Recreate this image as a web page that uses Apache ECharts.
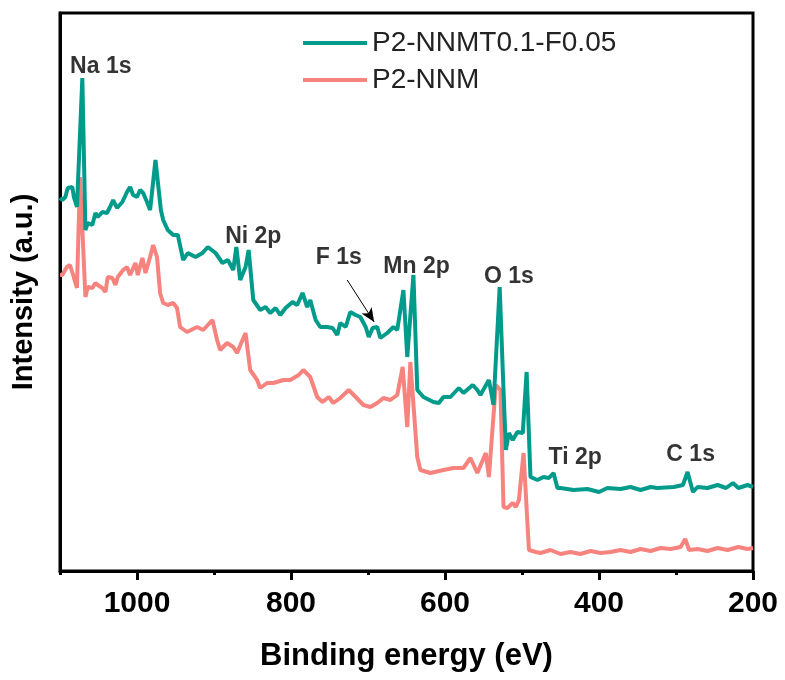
<!DOCTYPE html>
<html><head><meta charset="utf-8">
<script src="https://cdn.jsdelivr.net/npm/echarts@6/dist/echarts.min.js"></script>
<style>html,body{margin:0;padding:0;background:#fff}#c{width:785px;height:680px}</style>
</head><body><div id="c"></div>
<script>
// Binding energy (eV) and intensity (a.u.)
const energyT = [1100,1097,1093,1090,1084,1082,1078,1071,1067,1064,1058,1054,1051,1045,1039,1035,1031,1026,1019,1013,1009,1005,1000,996,992,987,983,976,969,966,960,953,947,940,934,924,915,908,898,889,882,875,871,866,859,855,849,840,833,827,820,814,807,798,792,785,779,775,768,762,753,746,740,736,729,723,716,710,703,699,694,688,684,675,667,662,654,649,641,636,628,615,608,602,593,582,576,564,558,554,543,537,529,525,521,517,512,506,499,494,489,480,472,465,459,454,450,433,415,400,389,372,359,346,333,324,303,291,285,278,272,259,246,235,226,219,207,200];
const intensityT = [373,371,374,383,384,374,364,493,341,348,346,358,354,359,358,364,371,363,369,379,384,376,374,381,378,369,361,411,361,351,341,336,336,311,318,314,318,324,318,308,311,301,324,291,304,321,271,261,264,258,263,256,263,269,266,278,264,271,251,244,244,243,236,248,244,259,256,254,244,234,243,244,233,238,244,241,281,214,296,181,174,169,168,174,174,183,178,186,181,176,191,166,284,201,121,138,131,139,138,199,94,91,94,93,98,83,83,81,82,79,83,82,84,81,84,83,84,86,99,79,84,83,86,83,88,83,86,84];
const energyN = [1100,1097,1091,1087,1083,1078,1074,1067,1064,1058,1054,1051,1045,1041,1038,1032,1028,1025,1018,1013,1009,1002,999,993,989,983,979,974,970,966,960,953,948,944,935,922,914,902,896,892,883,875,870,863,859,853,844,840,831,823,810,801,790,784,775,766,759,751,745,736,725,716,706,697,688,680,671,662,655,649,645,636,632,619,602,589,576,567,558,547,543,534,528,524,519,512,508,504,498,491,482,476,463,450,437,424,411,398,385,372,359,346,333,320,307,294,288,283,272,259,246,233,219,207,200];
const intensityN = [296,296,304,306,296,283,394,274,284,283,288,286,283,279,294,293,286,294,301,304,296,308,296,313,298,314,326,314,278,268,266,268,263,244,239,244,241,251,231,221,228,224,218,231,238,201,191,183,188,188,191,191,196,201,194,174,169,174,168,173,181,174,166,164,168,173,171,176,204,144,209,114,101,98,101,103,103,113,98,118,94,186,181,64,63,68,64,71,118,21,19,18,21,17,19,17,20,18,19,21,19,22,20,23,22,24,32,21,22,20,23,21,24,22,23];
const seriesNames = ['P2-NNMT0.1-F0.05', 'P2-NNM'];
const majorTicks = [200, 400, 600, 800, 1000];
const minorTicks = [300, 500, 700, 900, 1100];
const peakNames = ['Na 1s', 'Ni 2p', 'F 1s', 'Mn 2p', 'O 1s', 'Ti 2p', 'C 1s'];
const peakEnergy = [1047, 849, 738, 637, 517, 431, 281];
const peakLabelY = [504, 334, 313, 304, 294, 113, 116];
const arrowFrom = [727, 291];
const arrowTo = [692, 249];

const zip = (a, b) => a.map((v, i) => [v, b[i]]);
const font = '"Liberation Sans", Arial, sans-serif';
const chart = echarts.init(document.getElementById('c'));
chart.setOption({
  animation: false,
  backgroundColor: '#fff',
  grid: {left: 60, right: 32, top: 13, bottom: 109, show: true, borderColor: '#000', borderWidth: 3},
  legend: {
    data: seriesNames, orient: 'vertical', left: 298, top: 24,
    icon: 'rect', itemWidth: 64, itemHeight: 4, itemGap: 9,
    textStyle: {fontSize: 28, color: '#222', fontFamily: font, lineHeight: 28}
  },
  xAxis: [{
    type: 'value', min: 200, max: 1100, inverse: true,
    axisLine: {show: true, lineStyle: {color: '#000', width: 3}},
    axisTick: {show: true, length: 9, customValues: majorTicks, lineStyle: {color: '#000', width: 3}},
    axisLabel: {customValues: majorTicks, formatter: v => String(v), fontSize: 30, fontWeight: 'bold', color: '#000', margin: 18, fontFamily: font},
    splitLine: {show: false},
    name: 'Binding energy (eV)', nameLocation: 'middle', nameGap: 70,
    nameTextStyle: {fontSize: 31, fontWeight: 'bold', color: '#000', fontFamily: font}
  }, {
    type: 'value', min: 200, max: 1100, inverse: true, position: 'bottom',
    axisLine: {show: false},
    axisTick: {show: true, length: 4, customValues: minorTicks, lineStyle: {color: '#000', width: 3}},
    axisLabel: {show: false}, splitLine: {show: false}
  }],
  yAxis: {
    type: 'value', min: 0, max: 558,
    axisLine: {show: true, lineStyle: {color: '#000', width: 3}},
    axisTick: {show: false}, axisLabel: {show: false}, splitLine: {show: false},
    name: 'Intensity (a.u.)', nameLocation: 'middle', nameGap: 22,
    nameTextStyle: {fontSize: 29, fontWeight: 'bold', color: '#000', fontFamily: font}
  },
  series: [{
    name: seriesNames[0], type: 'line', data: zip(energyT, intensityT), symbol: 'none',
    lineStyle: {color: '#009B8A', width: 4}, itemStyle: {color: '#009B8A'}, z: 3
  }, {
    name: seriesNames[1], type: 'line', data: zip(energyN, intensityN), symbol: 'none',
    lineStyle: {color: '#F7837F', width: 4}, itemStyle: {color: '#F7837F'}, z: 2
  }, {
    name: 'peaks', type: 'scatter', symbolSize: 0, silent: true, z: 5,
    data: peakNames.map((n, i) => [peakEnergy[i], peakLabelY[i], n]),
    label: {show: true, position: 'inside', formatter: p => p.value[2],
      fontSize: 23, fontWeight: 'bold', color: '#000', fontFamily: font},
    markLine: {
      silent: true, symbol: ['none', 'arrow'], symbolSize: [9, 14],
      lineStyle: {color: '#000', width: 1, type: 'solid'}, label: {show: false},
      data: [[{coord: arrowFrom}, {coord: arrowTo}]]
    }
  }]
});
</script></body></html>
